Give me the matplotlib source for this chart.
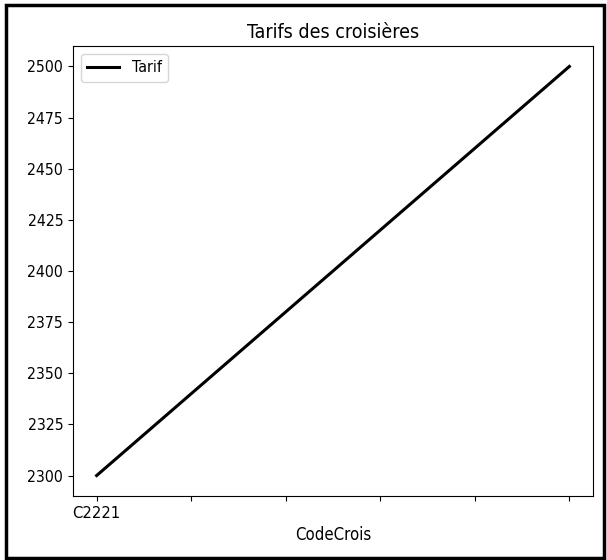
import matplotlib
matplotlib.use("Agg")
import matplotlib.pyplot as plt
from matplotlib.patches import Rectangle
import numpy as np

codes = ["C2221", "C2222"]
tarifs = [2300, 2500]
x_tick_labels = ["C2221", "", "", "", "", ""]

plt.rcParams['font.family'] = ['DejaVu Sans']
plt.rcParams['font.stretch'] = 'condensed'

fig = plt.figure(figsize=(6.07, 5.6), dpi=100)
fig.patches.append(Rectangle((6 / 607, 2 / 560), 598 / 607, 553 / 560,
                             transform=fig.transFigure, fill=False,
                             edgecolor='black', linewidth=2.5, zorder=10))
ax = fig.add_axes([73 / 607, 1 - 496 / 560, 520 / 607, 450 / 560])
x = np.arange(len(codes))
ax.plot(x, tarifs, color='black', linewidth=2.2, label='Tarif')
ticks = np.linspace(0, 1, 6)
ax.set_xticks(ticks)
ax.set_xticklabels(x_tick_labels, fontsize=11.8)
ax.set_yticks(np.arange(2300, 2501, 25))
ax.tick_params(axis='y', labelsize=11.3)
ax.set_xlabel('CodeCrois', fontsize=12)
ax.set_title('Tarifs des croisières', fontsize=14)
ax.legend(loc='upper left', fontsize=11.5)
fig.savefig('out.png', dpi=100)
